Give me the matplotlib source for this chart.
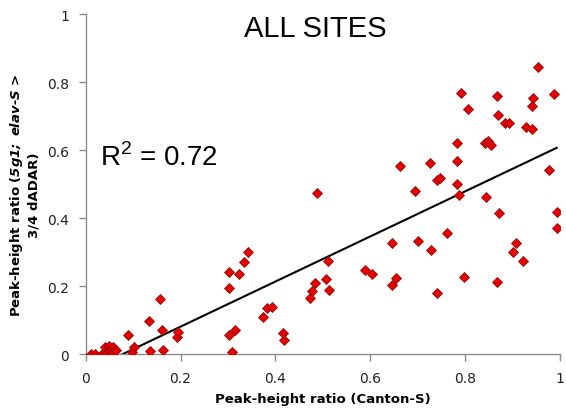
import numpy as np
import matplotlib
matplotlib.use("Agg")
import matplotlib.pyplot as plt
from matplotlib.ticker import FuncFormatter

# peak-height ratios
canton_s = [0.012, 0.020, 0.035, 0.041, 0.044, 0.049, 0.053, 0.058, 0.058, 0.063,
            0.089, 0.098, 0.102, 0.134, 0.136, 0.157, 0.160, 0.164, 0.192, 0.194,
            0.303, 0.303, 0.303, 0.308, 0.315, 0.324, 0.333, 0.343, 0.373, 0.383,
            0.393, 0.415, 0.418, 0.473, 0.478, 0.483, 0.487, 0.507, 0.511, 0.514,
            0.589, 0.603, 0.645, 0.646, 0.654, 0.662, 0.694, 0.701, 0.726, 0.727,
            0.740, 0.741, 0.747, 0.762, 0.782, 0.782, 0.783, 0.787, 0.791, 0.798,
            0.807, 0.842, 0.843, 0.849, 0.855, 0.867, 0.868, 0.869, 0.871, 0.884,
            0.892, 0.900, 0.907, 0.923, 0.928, 0.941, 0.942, 0.944, 0.953, 0.977,
            0.988, 0.993, 0.993]
mutant = [0.000, 0.000, 0.000, 0.020, 0.003, 0.024, 0.010, 0.020, 0.003, 0.013,
          0.055, 0.007, 0.020, 0.098, 0.010, 0.162, 0.071, 0.013, 0.051, 0.064,
          0.240, 0.193, 0.057, 0.007, 0.072, 0.235, 0.270, 0.299, 0.110, 0.135,
          0.137, 0.061, 0.041, 0.165, 0.186, 0.208, 0.473, 0.220, 0.273, 0.188,
          0.247, 0.237, 0.203, 0.327, 0.224, 0.554, 0.480, 0.334, 0.562, 0.305,
          0.181, 0.513, 0.518, 0.355, 0.620, 0.567, 0.500, 0.469, 0.767, 0.227,
          0.721, 0.620, 0.461, 0.627, 0.616, 0.760, 0.211, 0.704, 0.415, 0.681,
          0.679, 0.301, 0.326, 0.273, 0.667, 0.662, 0.730, 0.753, 0.845, 0.542,
          0.765, 0.417, 0.372]
ticks = [0, 0.2, 0.4, 0.6, 0.8, 1]

plt.rcParams['mathtext.fontset'] = 'custom'
plt.rcParams['mathtext.rm'] = 'Liberation Sans'
plt.rcParams['mathtext.bfit'] = 'DejaVu Sans:italic:bold'

fig = plt.figure(figsize=(5.66, 4.10), dpi=100)
ax = fig.add_axes([0.1514, 0.134, 0.838, 0.829])

x = np.array(canton_s)
y = np.array(mutant)

# linear trendline
slope, icpt = np.polyfit(x, y, 1)
xs = np.linspace(x.min(), x.max(), 50)
ax.plot(xs, slope * xs + icpt, color='black', lw=1.5, zorder=2)

ax.plot(x, y, 'D', ms=5.2, color='#e60000', mec='#8a1010', mew=0.6, zorder=3)

ax.set_xlim(0, 1)
ax.set_ylim(0, 1)
ax.set_xticks(ticks)
ax.set_yticks(ticks)
fmt = FuncFormatter(lambda v, p: '%g' % v)
ax.xaxis.set_major_formatter(fmt)
ax.yaxis.set_major_formatter(fmt)

for s in ['top', 'right']:
    ax.spines[s].set_visible(False)
for s in ['left', 'bottom']:
    ax.spines[s].set_color('#8c8c8c')
    ax.spines[s].set_linewidth(1.0)
ax.tick_params(direction='out', length=5, width=1, color='#8c8c8c',
               labelsize=10, labelcolor='#222222', pad=7)

ax.set_xlabel('Peak-height ratio (Canton-S)', fontsize=9.5, fontweight='bold', labelpad=5)
ax.set_ylabel('Peak-height ratio ($\\mathbfit{5g1;\\ elav\u2010S}$ >\n3/4 dADAR)',
              fontsize=9.5, fontweight='bold', linespacing=1.2)
ax.yaxis.set_label_coords(-0.096, 0.47)

fig.text(0.557, 0.9098, 'ALL SITES', fontsize=21, family='Liberation Sans',
         ha='center', va='baseline')
ax.text(0.030, 0.556, 'R$^{2}$ = 0.72', fontsize=20, family='Liberation Sans',
        transform=ax.transAxes, ha='left', va='baseline')

fig.savefig('out.png', dpi=100)
